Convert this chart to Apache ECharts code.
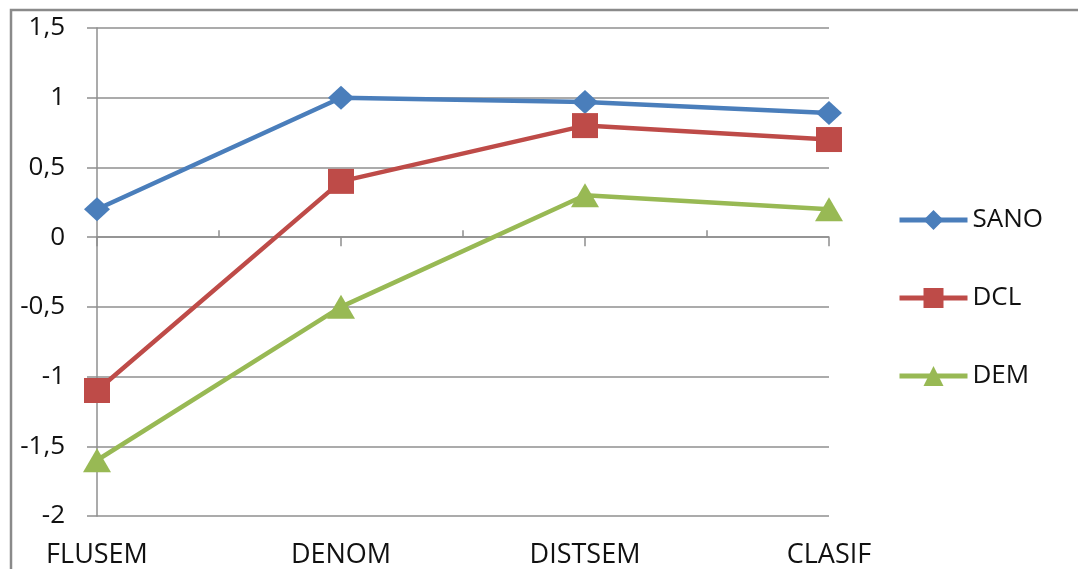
<!DOCTYPE html>
<html>
<head>
<meta charset="utf-8">
<title>SANO / DCL / DEM</title>
<script src="https://cdn.jsdelivr.net/npm/echarts@6/dist/echarts.min.js"></script>
<style>
  html, body { margin: 0; padding: 0; background: #ffffff; }
  #chart { width: 1078px; height: 569px; }
</style>
</head>
<body>
<div id="chart"></div>
<script>
// Categories along the horizontal axis
const categories = ['FLUSEM', 'DENOM', 'DISTSEM', 'CLASIF'];

// Series values
const sanoValues = [0.2, 1.0, 0.97, 0.89];
const dclValues = [-1.1, 0.4, 0.8, 0.7];
const demValues = [-1.6, -0.5, 0.3, 0.2];

// Value axis range and step
const yMin = -2;
const yMax = 1.5;
const yStep = 0.5;

const FONT = '"Open Sans", "Noto Sans", sans-serif';
const GRID_COLOR = '#8f8f8f';
const TEXT_COLOR = '#111111';

// Plot box
const GRID = { left: 97, right: 249, top: 28, bottom: 53 };
const CHART_H = 569;
const plotH = CHART_H - GRID.top - GRID.bottom;
// Distance from the plot bottom edge up to the zero line
const zeroOffset = plotH * (0 - yMin) / (yMax - yMin);

const chart = echarts.init(document.getElementById('chart'), null, { renderer: 'canvas' });

function lineSeries(name, data, color, symbol, size) {
  return {
    name: name,
    type: 'line',
    xAxisIndex: 0,
    data: data,
    symbol: symbol,
    symbolSize: size,
    showAllSymbol: true,
    lineStyle: { color: color, width: 4.5 },
    itemStyle: { color: color },
    emphasis: { disabled: true },
    animation: false,
    z: 3
  };
}

chart.setOption({
  backgroundColor: '#ffffff',
  animation: false,
  textStyle: { fontFamily: FONT },
  grid: { left: GRID.left, right: GRID.right, top: GRID.top, bottom: GRID.bottom, containLabel: false },
  legend: {
    orient: 'vertical',
    left: 892,
    top: 202,
    itemWidth: 68,
    itemHeight: 25,
    itemGap: 52,
    selectedMode: false,
    lineStyle: { width: 5 },
    textStyle: { fontFamily: FONT, fontSize: 26, color: TEXT_COLOR, lineHeight: 25 },
    data: ['SANO', 'DCL', 'DEM']
  },
  xAxis: [
    {
      // Horizontal axis line through zero with major ticks at each category
      type: 'category',
      data: categories,
      boundaryGap: false,
      position: 'bottom',
      axisLine: { show: true, onZero: true, lineStyle: { color: GRID_COLOR, width: 1.5 } },
      axisTick: { show: true, length: 9, inside: false, lineStyle: { color: GRID_COLOR, width: 1.5 } },
      axisLabel: { show: false },
      splitLine: { show: false }
    },
    {
      // Short upward ticks midway between categories, sitting on the zero line
      type: 'category',
      data: ['', '', ''],
      boundaryGap: true,
      position: 'bottom',
      offset: -zeroOffset,
      axisLine: { show: false, onZero: false },
      axisTick: { show: true, alignWithLabel: true, length: 7, inside: true, lineStyle: { color: GRID_COLOR, width: 1.5 } },
      axisLabel: { show: false },
      splitLine: { show: false }
    },
    {
      // Category names along the bottom edge of the plot
      type: 'category',
      data: categories,
      boundaryGap: false,
      position: 'bottom',
      axisLine: { show: false, onZero: false },
      axisTick: { show: false },
      axisLabel: {
        show: true,
        margin: 39,
        verticalAlign: 'middle',
        fontFamily: FONT,
        fontSize: 27,
        color: TEXT_COLOR
      },
      splitLine: { show: false }
    }
  ],
  yAxis: {
    type: 'value',
    min: yMin,
    max: yMax,
    interval: yStep,
    axisLine: { show: true, onZero: false, lineStyle: { color: GRID_COLOR, width: 1.5 } },
    axisTick: { show: true, length: 10, inside: false, lineStyle: { color: GRID_COLOR, width: 1.5 } },
    splitLine: { show: true, lineStyle: { color: GRID_COLOR, width: 1.5 } },
    axisLabel: {
      margin: 32,
      fontFamily: FONT,
      fontSize: 26,
      color: TEXT_COLOR,
      formatter: function (v) { return String(v).replace('.', ','); }
    }
  },
  series: [
    lineSeries('SANO', sanoValues, '#4A7EBB', 'diamond', [26, 24]),
    lineSeries('DCL', dclValues, '#BE4B48', 'rect', [26, 25]),
    lineSeries('DEM', demValues, '#98B954', 'triangle', [28, 24])
  ],
  graphic: [
    {
      // Chart-area frame (left and top edges visible)
      type: 'polyline',
      shape: { points: [[11, 600], [11, 10], [1100, 10]] },
      style: { fill: null, stroke: '#8a8a8a', lineWidth: 2.5 },
      silent: true,
      z: 10
    }
  ]
});
</script>
</body>
</html>
